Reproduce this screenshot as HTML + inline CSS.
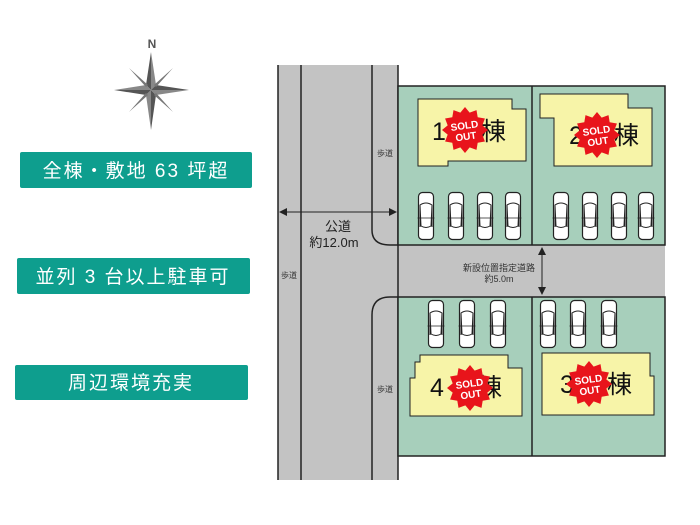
<!DOCTYPE html>
<html><head><meta charset="utf-8"><style>
html,body{margin:0;padding:0;background:#fff;}
svg{display:block;}
text{font-family:"Liberation Sans","Noto Sans CJK JP",sans-serif;}
</style></head><body>
<svg width="700" height="525" viewBox="0 0 700 525" xmlns="http://www.w3.org/2000/svg">
<defs>
<g id="car">
<rect x="0.5" y="0.5" width="15" height="47" rx="4" fill="#fff" stroke="#222" stroke-width="1.2"/>
<path d="M2 13 Q8 9 14 13 L13 34 Q8 37 3 34 Z" fill="#fff" stroke="#222" stroke-width="1"/>
<line x1="2" y1="13" x2="2" y2="35" stroke="#222" stroke-width="1"/>
<line x1="14" y1="13" x2="14" y2="35" stroke="#222" stroke-width="1"/>
<line x1="-0.5" y1="26" x2="16.5" y2="26" stroke="#222" stroke-width="0.8"/>
</g>
<g id="burst">
<polygon fill="#e8141b" points="1,0 0.753,0.202 0.866,0.5 0.552,0.552 0.5,0.866 0.202,0.753 0,1 -0.202,0.753 -0.5,0.866 -0.552,0.552 -0.866,0.5 -0.753,0.202 -1,0 -0.753,-0.202 -0.866,-0.5 -0.552,-0.552 -0.5,-0.866 -0.202,-0.753 0,-1 0.202,-0.753 0.5,-0.866 0.552,-0.552 0.866,-0.5 0.753,-0.202" transform="scale(23)"/>
<g transform="rotate(-8)" fill="#fff" font-weight="bold" font-size="10" text-anchor="middle">
<text x="0" y="-1">SOLD</text><text x="0" y="10">OUT</text>
</g>
</g>
</defs>

<!-- compass -->
<text x="152" y="48" font-size="12" font-weight="bold" fill="#555" text-anchor="middle">N</text>
<g transform="translate(151,90)">
<polygon points="0,-38 5,-5 0,0" fill="#888"/><polygon points="0,-38 -5,-5 0,0" fill="#555"/>
<polygon points="0,40 -5,5 0,0" fill="#888"/><polygon points="0,40 5,5 0,0" fill="#555"/>
<polygon points="-37,0 -5,-5 0,0" fill="#888"/><polygon points="-37,0 -5,5 0,0" fill="#555"/>
<polygon points="38,0 5,5 0,0" fill="#888"/><polygon points="38,0 5,-5 0,0" fill="#555"/>
<polygon points="-22,-22 -3,-5 -5,-3" fill="#777"/><polygon points="22,-22 5,-3 3,-5" fill="#777"/>
<polygon points="-22,22 -5,3 -3,5" fill="#777"/><polygon points="22,22 3,5 5,3" fill="#777"/>
</g>

<!-- labels -->
<rect x="20" y="152" width="232" height="36" rx="2" fill="#0e9e8e"/>
<text x="136" y="177" font-size="19" fill="#fff" text-anchor="middle" letter-spacing="2">全棟・敷地 63 坪超</text>
<rect x="17" y="258" width="233" height="36" rx="2" fill="#0e9e8e"/>
<text x="133" y="283" font-size="19" fill="#fff" text-anchor="middle" letter-spacing="2">並列 3 台以上駐車可</text>
<rect x="15" y="365" width="233" height="35" rx="2" fill="#0e9e8e"/>
<text x="131" y="389" font-size="19" fill="#fff" text-anchor="middle" letter-spacing="2">周辺環境充実</text>

<!-- roads -->
<rect x="278" y="65" width="120" height="415" fill="#c3c3c3"/>
<rect x="398" y="245" width="267" height="52" fill="#c3c3c3"/>
<line x1="278" y1="65" x2="278" y2="480" stroke="#222" stroke-width="1.5"/>
<line x1="301" y1="65" x2="301" y2="480" stroke="#222" stroke-width="1.5"/>
<line x1="398" y1="65" x2="398" y2="480" stroke="#222" stroke-width="1.5"/>
<path d="M372 65 L372 230 Q372 245 390 245 L398 245" fill="none" stroke="#222" stroke-width="1.5"/>
<path d="M398 297 L390 297 Q372 297 372 315 L372 480" fill="none" stroke="#222" stroke-width="1.5"/>

<!-- lots -->
<rect x="398" y="86" width="267" height="159" fill="#a7cfbb" stroke="#222" stroke-width="1.5"/>
<line x1="532" y1="86" x2="532" y2="245" stroke="#222" stroke-width="1.5"/>
<rect x="398" y="297" width="267" height="159" fill="#a7cfbb" stroke="#222" stroke-width="1.5"/>
<line x1="532" y1="297" x2="532" y2="456" stroke="#222" stroke-width="1.5"/>

<!-- houses -->
<polygon points="418,99 512,99 512,109 526,109 526,161 448,161 448,166 418,166" fill="#f7f4a8" stroke="#222" stroke-width="1"/>
<polygon points="540,94 628,94 628,108 652,108 652,166 554,166 554,118 540,118" fill="#f7f4a8" stroke="#222" stroke-width="1"/>
<polygon points="420,355 508,355 508,368 522,368 522,416 410,416 410,378 415,378 415,362 420,362" fill="#f7f4a8" stroke="#222" stroke-width="1"/>
<polygon points="542,353 650,353 650,376 654,376 654,415 542,415" fill="#f7f4a8" stroke="#222" stroke-width="1"/>

<g font-size="25" fill="#111">
<text x="432" y="140">1</text><text x="481" y="140">棟</text>
<text x="569" y="144">2</text><text x="614" y="144">棟</text>
<text x="430" y="396">4</text><text x="477" y="396">棟</text>
<text x="560" y="393">3</text><text x="607" y="393">棟</text>
</g>
<use href="#burst" x="465" y="130"/>
<use href="#burst" x="597" y="135"/>
<use href="#burst" x="470" y="388"/>
<use href="#burst" x="589" y="384"/>

<!-- cars -->
<use href="#car" x="418" y="192"/><use href="#car" x="448" y="192"/><use href="#car" x="477" y="192"/><use href="#car" x="505" y="192"/>
<use href="#car" x="553" y="192"/><use href="#car" x="582" y="192"/><use href="#car" x="611" y="192"/><use href="#car" x="638" y="192"/>
<use href="#car" x="428" y="300"/><use href="#car" x="459" y="300"/><use href="#car" x="490" y="300"/>
<use href="#car" x="540" y="300"/><use href="#car" x="570" y="300"/><use href="#car" x="601" y="300"/>

<!-- dimensions -->
<line x1="282" y1="212" x2="394" y2="212" stroke="#222" stroke-width="1"/>
<polygon points="279,212 287,208 287,216" fill="#222"/>
<polygon points="397,212 389,208 389,216" fill="#222"/>
<text x="338" y="231" font-size="13" fill="#222" text-anchor="middle">公道</text>
<text x="334" y="247" font-size="13" fill="#222" text-anchor="middle">約12.0m</text>
<line x1="542" y1="250" x2="542" y2="293" stroke="#222" stroke-width="1"/>
<polygon points="542,247 538,255 546,255" fill="#222"/>
<polygon points="542,295 538,287 546,287" fill="#222"/>
<text x="499" y="271" font-size="9" fill="#333" text-anchor="middle">新設位置指定道路</text>
<text x="499" y="282" font-size="9" fill="#333" text-anchor="middle">約5.0m</text>
<text x="385" y="156" font-size="8" fill="#333" text-anchor="middle">歩道</text>
<text x="289" y="278" font-size="8" fill="#333" text-anchor="middle">歩道</text>
<text x="385" y="392" font-size="8" fill="#333" text-anchor="middle">歩道</text>
</svg>
</body></html>
